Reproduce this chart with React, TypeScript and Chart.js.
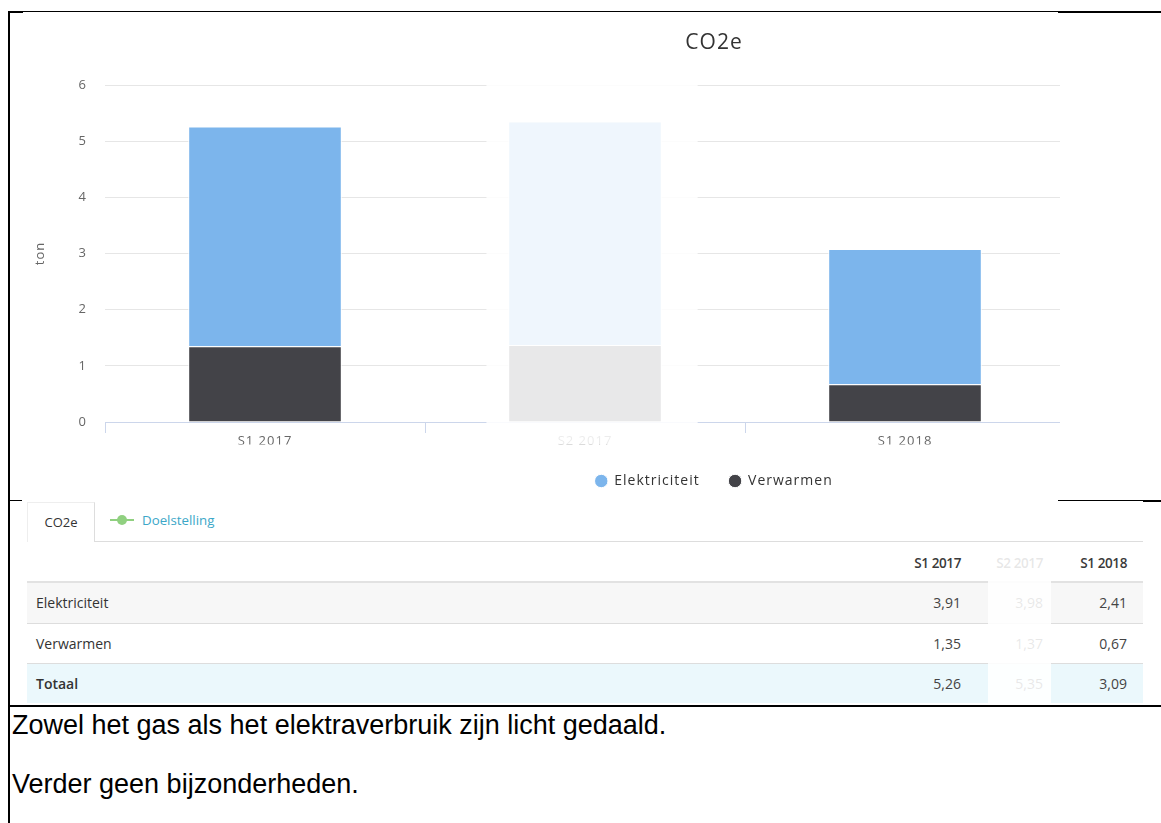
import React, { useEffect, useRef } from 'react';
import { Chart, registerables } from 'chart.js';

Chart.register(...registerables);

// Period labels and CO2e values (ton)
const categories = ['S1 2017', 'S2 2017', 'S1 2018'];
const elektriciteit = [3.91, 3.98, 2.41];
const verwarmen = [1.35, 1.37, 0.67];
const totaal = [5.26, 5.35, 3.09];
const mutedCategory = 'S2 2017';
const yMin = 0;
const yMax = 6;
const yStep = 1;

const BLUE = '#7cb5ec';
const DARK = '#434348';
const FONT = "'Open Sans', sans-serif";
const MUTE = 'rgba(255,255,255,0.878)';

const fmt = (v: number) => v.toFixed(2).replace('.', ',');

// Slightly tracked-out canvas text
const tracking = {
  id: 'tracking',
  beforeUpdate(chart: any) {
    chart.ctx.letterSpacing = '1px';
  },
  beforeDraw(chart: any) {
    chart.ctx.letterSpacing = '1px';
  },
};

// Whitens the column of the muted period (bars, grid and its label)
const muteBand = {
  id: 'muteBand',
  afterDraw(chart: any) {
    const i = categories.indexOf(mutedCategory);
    if (i < 0) return;
    const x = chart.scales.x;
    const cw = x.width / categories.length;
    const c = x.getPixelForValue(i);
    const { ctx, chartArea } = chart;
    ctx.save();
    ctx.fillStyle = MUTE;
    ctx.fillRect(c - 0.308 * cw, chartArea.top - 8, 0.66 * cw, x.bottom - chartArea.top + 8);
    ctx.restore();
  },
};

function CO2Chart() {
  const ref = useRef<HTMLCanvasElement>(null);
  useEffect(() => {
    const barStyle = {
      borderColor: '#ffffff',
      borderWidth: 1,
      barPercentage: 0.8,
      categoryPercentage: 0.6,
    };
    const chart = new Chart(ref.current as HTMLCanvasElement, {
      type: 'bar',
      data: {
        labels: categories,
        datasets: [
          { label: 'Verwarmen', data: verwarmen, backgroundColor: DARK, ...barStyle },
          { label: 'Elektriciteit', data: elektriciteit, backgroundColor: BLUE, ...barStyle },
        ],
      },
      options: {
        responsive: false,
        animation: false,
        devicePixelRatio: 1,
        layout: { padding: { top: 0, left: 0, right: 0, bottom: 2 } },
        plugins: {
          title: {
            display: true,
            text: 'CO2e',
            color: '#333333',
            font: { family: FONT, size: 21, weight: 'normal' },
            padding: { top: 17.4, bottom: 29.4 },
          },
          legend: {
            position: 'bottom',
            reverse: true,
            labels: {
              usePointStyle: true,
              pointStyle: 'circle',
              boxWidth: 12,
              boxHeight: 9.5,
              padding: 29.4,
              color: '#333333',
              font: { family: FONT, size: 14 },
            },
          },
          tooltip: { enabled: false },
        },
        scales: {
          x: {
            stacked: true,
            grid: { drawOnChartArea: false, drawTicks: true, tickLength: 11, color: '#ccd6eb' },
            border: { color: '#ccd6eb', width: 1 },
            ticks: { color: '#666666', padding: 0, font: { family: FONT, size: 13 } },
            afterFit: (s: any) => {
              s.height -= 4;
            },
          },
          y: {
            stacked: true,
            min: yMin,
            max: yMax,
            ticks: { stepSize: yStep, padding: 18, color: '#666666', font: { family: FONT, size: 13 } },
            grid: { color: '#e6e6e6', drawTicks: false },
            border: { display: false },
            title: {
              display: true,
              text: 'ton',
              color: '#666666',
              font: { family: FONT, size: 13 },
              padding: { top: 10.2, bottom: 0 },
            },
            afterFit: (s: any) => {
              s.width = 83;
            },
          },
          pad: {
            type: 'linear',
            position: 'right',
            display: true,
            grid: { display: false },
            ticks: { display: false },
            border: { display: false },
            afterFit: (s: any) => {
              s.width = 341;
            },
          },
        },
      },
      plugins: [tracking, muteBand],
    } as any);
    return () => chart.destroy();
  }, []);
  return <canvas ref={ref} width={1384} height={487} style={{ display: 'block' }} />;
}

const abs = (left: number, top: number, width: number, height: number, extra: any = {}) => ({
  position: 'absolute' as const,
  left,
  top,
  width,
  height,
  ...extra,
});

const valueRight = [961, 1043, 1127];
const rows = [
  { label: 'Elektriciteit', values: elektriciteit, top: 583, height: 40, bg: '#f7f7f7', bold: false },
  { label: 'Verwarmen', values: verwarmen, top: 624, height: 39, bg: '#ffffff', bold: false },
  { label: 'Totaal', values: totaal, top: 664, height: 39, bg: '#ebf8fc', bold: true },
];

const tableText = { fontFamily: FONT, fontSize: 14, color: '#333333', whiteSpace: 'nowrap' as const };

export default function App() {
  const line = (l: number, t: number, w: number, h: number) => (
    <div style={abs(l, t, w, h, { background: '#000' })} />
  );
  return (
    <div style={abs(0, 0, 1161, 823, { background: '#ffffff', overflow: 'hidden' })}>
      <div style={abs(22, 13, 1038, 487, { overflow: 'hidden' })}>
        <CO2Chart />
      </div>

      {/* tabs */}
      <div
        style={abs(27, 502, 68, 40, {
          borderLeft: '1px solid #eeeeee',
          borderTop: '1px solid #eeeeee',
          borderRight: '1px solid #dddddd',
          boxSizing: 'border-box',
          ...tableText,
          fontSize: 13,
          lineHeight: '38px',
          textAlign: 'center',
        })}
      >
        CO2e
      </div>
      <div style={abs(95, 541, 1048, 1, { background: '#dddddd' })} />
      <svg style={abs(108, 512, 28, 16)} width={28} height={16}>
        <line x1={2} y1={8} x2={26} y2={8} stroke="#90d080" strokeWidth={2} />
        <circle cx={14} cy={8} r={5} fill="#90d080" />
      </svg>
      <div style={abs(142, 510, 120, 20, { ...tableText, fontSize: 13.3, color: '#3ca7c8', lineHeight: '20px' })}>
        Doelstelling
      </div>

      {/* header */}
      {categories.map((c, j) => (
        <div
          key={c}
          style={abs(valueRight[j] - 80, 553, 80, 20, {
            ...tableText,
            fontSize: 13.5,
            fontWeight: 600,
            color: '#3a3a3a',
            letterSpacing: '-0.4px',
            lineHeight: '20px',
            textAlign: 'right',
          })}
        >
          {c}
        </div>
      ))}
      <div style={abs(27, 581, 1116, 2, { background: '#e2e2e2' })} />

      {/* rows */}
      {rows.map((r) => (
        <React.Fragment key={r.label}>
          <div style={abs(27, r.top, 1116, r.height, { background: r.bg })} />
          {r.bold ? null : <div style={abs(27, r.top + r.height, 1116, 1, { background: '#dddddd' })} />}
          <div
            style={abs(36, r.top, 300, r.height, {
              ...tableText,
              fontWeight: r.bold ? 600 : 400,
              lineHeight: `${r.height}px`,
            })}
          >
            {r.label}
          </div>
          {r.values.map((v, j) => (
            <div
              key={j}
              style={abs(valueRight[j] - 80, r.top, 80, r.height, {
                ...tableText,
                color: '#444444',
                lineHeight: `${r.height}px`,
                textAlign: 'right',
              })}
            >
              {fmt(v)}
            </div>
          ))}
        </React.Fragment>
      ))}
      <div style={abs(988, 545, 63, 158, { background: MUTE })} />

      {/* notes */}
      <div style={abs(12, 710, 1140, 30, { fontFamily: "'Liberation Sans', Arial, sans-serif", fontSize: 27, lineHeight: '30px', color: '#000' })}>
        Zowel het gas als het elektraverbruik zijn licht gedaald.
      </div>
      <div style={abs(12, 769, 1140, 30, { fontFamily: "'Liberation Sans', Arial, sans-serif", fontSize: 27, lineHeight: '30px', color: '#000' })}>
        Verder geen bijzonderheden.
      </div>

      {/* frame lines */}
      {line(8, 11, 1153, 1)}
      {line(8, 11, 15, 2)}
      {line(1058, 11, 103, 2)}
      {line(8, 11, 2, 812)}
      {line(8, 500, 14, 1)}
      {line(1058, 500, 103, 1)}
      {line(1143, 500, 18, 2)}
      {line(8, 705, 1153, 2)}
    </div>
  );
}
